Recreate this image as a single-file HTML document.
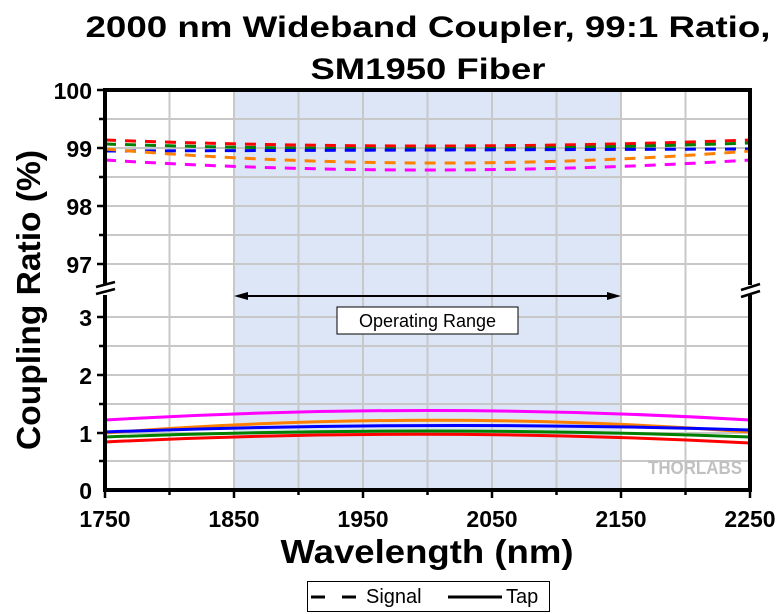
<!DOCTYPE html>
<html><head><style>body{margin:0;background:#fff}svg{display:block}text{font-family:"Liberation Sans",Arial,sans-serif}</style></head>
<body>
<svg width="780" height="614" viewBox="0 0 780 614" xmlns="http://www.w3.org/2000/svg">
<rect width="780" height="614" fill="#fff"/>
<text x="428" y="37" font-size="30" font-weight="bold" text-anchor="middle" textLength="685" lengthAdjust="spacingAndGlyphs">2000 nm Wideband Coupler, 99:1 Ratio,</text>
<text x="428" y="79" font-size="30" font-weight="bold" text-anchor="middle" textLength="235" lengthAdjust="spacingAndGlyphs">SM1950 Fiber</text>
<rect x="234" y="90" width="387" height="400" fill="#dde6f6"/>
<g stroke="#c8c8c8" stroke-width="2">
<line x1="169.5" y1="90" x2="169.5" y2="490"/><line x1="234" y1="90" x2="234" y2="490"/><line x1="298.5" y1="90" x2="298.5" y2="490"/><line x1="363" y1="90" x2="363" y2="490"/><line x1="427.5" y1="90" x2="427.5" y2="490"/><line x1="492" y1="90" x2="492" y2="490"/><line x1="556.5" y1="90" x2="556.5" y2="490"/><line x1="621" y1="90" x2="621" y2="490"/><line x1="685.5" y1="90" x2="685.5" y2="490"/>
<line x1="105" y1="119" x2="750" y2="119"/><line x1="105" y1="148" x2="750" y2="148"/><line x1="105" y1="177" x2="750" y2="177"/><line x1="105" y1="206" x2="750" y2="206"/><line x1="105" y1="235" x2="750" y2="235"/><line x1="105" y1="264" x2="750" y2="264"/>
<line x1="105" y1="317" x2="750" y2="317"/><line x1="105" y1="346" x2="750" y2="346"/><line x1="105" y1="375" x2="750" y2="375"/><line x1="105" y1="404" x2="750" y2="404"/><line x1="105" y1="433" x2="750" y2="433"/><line x1="105" y1="461" x2="750" y2="461"/>
</g>
<g fill="none" stroke-width="3" stroke-dasharray="11 9">
<path d="M105 140 Q427 152 750 140" stroke="#ff0000"/>
<path d="M105 144 Q427 154 750 143" stroke="#008000"/>
<path d="M105 151 Q427 150 750 149" stroke="#0000ff"/>
<path d="M105 149 Q427 176 750 151" stroke="#ff8000"/>
<path d="M105 160 Q427 180 750 160" stroke="#ff00ff"/>
</g>
<g fill="none" stroke-width="3">
<path d="M105 420 Q427 401 750 420" stroke="#ff00ff"/>
<path d="M105 433 Q427 408 750 432" stroke="#ff8000"/>
<path d="M105 432 Q427 420 750 430" stroke="#0000ff"/>
<path d="M105 437 Q427 425 750 437" stroke="#008000"/>
<path d="M105 442 Q427 426 750 443" stroke="#ff0000"/>
</g>
<g stroke="#000" stroke-width="4" fill="none">
<line x1="105" y1="90" x2="750" y2="90"/>
<line x1="105" y1="490" x2="750" y2="490"/>
<line x1="105" y1="88" x2="105" y2="285"/><line x1="105" y1="295" x2="105" y2="492"/>
<line x1="750" y1="88" x2="750" y2="285"/><line x1="750" y1="295" x2="750" y2="492"/>
</g>
<g stroke="#000" stroke-width="2.5">
<line x1="96" y1="287" x2="115" y2="282"/><line x1="96" y1="294" x2="115" y2="289"/>
<line x1="741" y1="290" x2="760" y2="284"/><line x1="741" y1="297" x2="760" y2="291"/>
<line x1="97" y1="90" x2="105" y2="90"/><line x1="99" y1="119" x2="105" y2="119"/><line x1="97" y1="148" x2="105" y2="148"/><line x1="99" y1="177" x2="105" y2="177"/><line x1="97" y1="206" x2="105" y2="206"/><line x1="99" y1="235" x2="105" y2="235"/><line x1="97" y1="264" x2="105" y2="264"/>
<line x1="97" y1="317" x2="105" y2="317"/><line x1="99" y1="346" x2="105" y2="346"/><line x1="97" y1="375" x2="105" y2="375"/><line x1="99" y1="404" x2="105" y2="404"/><line x1="97" y1="433" x2="105" y2="433"/><line x1="99" y1="461" x2="105" y2="461"/>
<line x1="105" y1="490" x2="105" y2="498"/><line x1="169.5" y1="490" x2="169.5" y2="495"/><line x1="234" y1="490" x2="234" y2="498"/><line x1="298.5" y1="490" x2="298.5" y2="495"/><line x1="363" y1="490" x2="363" y2="498"/><line x1="427.5" y1="490" x2="427.5" y2="495"/><line x1="492" y1="490" x2="492" y2="498"/><line x1="556.5" y1="490" x2="556.5" y2="495"/><line x1="621" y1="490" x2="621" y2="498"/><line x1="685.5" y1="490" x2="685.5" y2="495"/><line x1="750" y1="490" x2="750" y2="498"/>
</g>
<line x1="240" y1="296" x2="615" y2="296" stroke="#000" stroke-width="2"/>
<polygon points="234,296 248,292 248,300" fill="#000"/><polygon points="621,296 607,292 607,300" fill="#000"/>
<rect x="337" y="307" width="181" height="27" fill="#fff" stroke="#000" stroke-width="1"/>
<text x="427.5" y="327" font-size="18" text-anchor="middle">Operating Range</text>
<text x="742" y="474" font-size="18" font-weight="bold" fill="#c0c0c0" text-anchor="end" textLength="94" lengthAdjust="spacingAndGlyphs">THORLABS</text>
<g font-size="23" font-weight="bold" text-anchor="end">
<text x="92" y="99">100</text><text x="92" y="157">99</text><text x="92" y="215">98</text><text x="92" y="273">97</text>
<text x="92" y="326">3</text><text x="92" y="384">2</text><text x="92" y="442">1</text><text x="92" y="499">0</text>
</g>
<g font-size="23" font-weight="bold" text-anchor="middle">
<text x="105" y="527">1750</text><text x="234" y="527">1850</text><text x="363" y="527">1950</text><text x="492" y="527">2050</text><text x="621" y="527">2150</text><text x="750" y="527">2250</text>
</g>
<text x="427" y="563" font-size="33" font-weight="bold" text-anchor="middle" textLength="293" lengthAdjust="spacingAndGlyphs">Wavelength (nm)</text>
<text transform="translate(40,300) rotate(-90)" font-size="33" font-weight="bold" text-anchor="middle" textLength="300" lengthAdjust="spacingAndGlyphs">Coupling Ratio (%)</text>
<rect x="307.5" y="581.5" width="242" height="30" fill="#fff" stroke="#000" stroke-width="1"/>
<line x1="311" y1="597" x2="359" y2="597" stroke="#000" stroke-width="3" stroke-dasharray="14 17"/>
<text x="366" y="603" font-size="20">Signal</text>
<line x1="448" y1="597" x2="502" y2="597" stroke="#000" stroke-width="3"/>
<text x="506" y="603" font-size="20">Tap</text>
</svg>
</body></html>
